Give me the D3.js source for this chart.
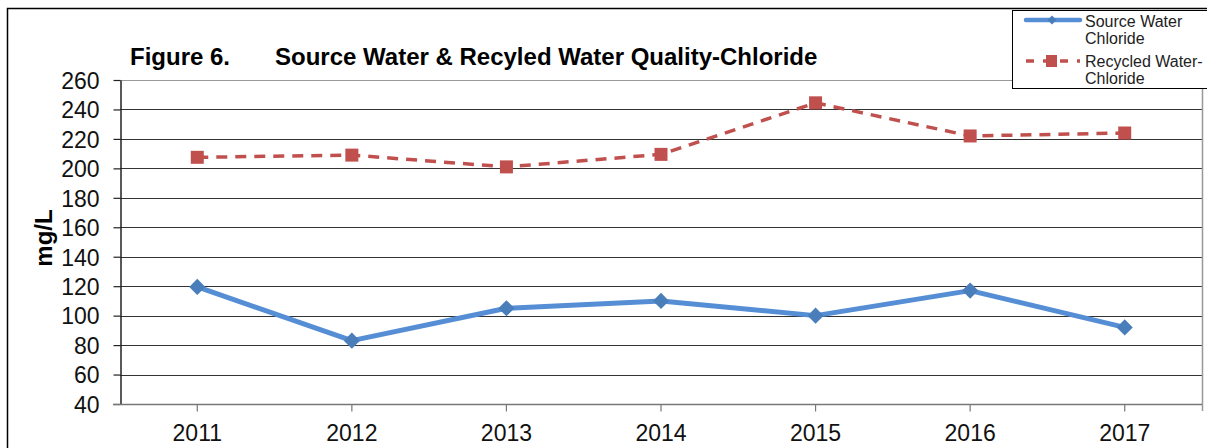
<!DOCTYPE html>
<html>
<head>
<meta charset="utf-8">
<script src="https://cdn.jsdelivr.net/npm/d3@7"></script>
<style>
  body { margin: 0; background: #fff; }
  svg { display: block; font-family: "Liberation Sans", Arial, sans-serif; }
</style>
</head>
<body>
<svg id="chart" width="1207" height="448"></svg>
<script>
"use strict";

var years = ["2011", "2012", "2013", "2014", "2015", "2016", "2017"];
var sourceWater = [119.5, 83, 105, 110, 100, 117, 92];
var recycledWater = [207.5, 209, 201, 209.5, 244.5, 222, 224];
var yTicks = [40, 60, 80, 100, 120, 140, 160, 180, 200, 220, 240, 260];
var seriesNames = [["Source Water", "Chloride"], ["Recycled Water-", "Chloride"]];

var BLUE_LINE = "#558ed5";
var BLUE_MARK = "#4a7ebb";
var RED = "#c0504d";

var svg = d3.select("#chart");
var plot = { left: 120, right: 1202, top: 80, bottom: 404 };

var x = d3.scaleBand().domain(years).range([plot.left, plot.right]);
var y = d3.scaleLinear().domain([40, 260]).range([plot.bottom, plot.top]);
var cx = function (d, i) { return x(years[i]) + x.bandwidth() / 2; };

// outer frame
svg.append("rect")
  .attr("x", 7.5).attr("y", 8.5)
  .attr("width", 1220).attr("height", 460)
  .attr("fill", "none").attr("stroke", "#000").attr("stroke-width", 1.5);

// gridlines
svg.append("g")
  .selectAll("line")
  .data(yTicks.slice(1))
  .enter()
  .append("line")
  .attr("x1", plot.left).attr("x2", plot.right)
  .attr("y1", function (d) { return Math.round(y(d)) + 0.5; })
  .attr("y2", function (d) { return Math.round(y(d)) + 0.5; })
  .attr("stroke", function (d) { return d === 260 ? "#999" : "#333"; })
  .attr("stroke-width", 1.2);

// right border
svg.append("line")
  .attr("x1", plot.right + 0.5).attr("x2", plot.right + 0.5)
  .attr("y1", plot.top).attr("y2", plot.bottom + 7)
  .attr("stroke", "#999").attr("stroke-width", 1.5);

// y axis
var yAxis = svg.append("g").attr("transform", "translate(" + (plot.left + 0.5) + ",0)")
  .call(d3.axisLeft(y).tickValues(yTicks).tickSize(7).tickSizeOuter(0).tickPadding(14));
yAxis.select(".domain").attr("stroke", "#222").attr("stroke-width", 1.5);
yAxis.selectAll(".tick line").attr("stroke", "#222").attr("stroke-width", 1.2);
yAxis.selectAll("text")
  .attr("font-family", "Liberation Sans, Arial, sans-serif")
  .attr("font-size", 23).attr("fill", "#111").attr("dy", "0.36em");

// x axis
svg.append("line")
  .attr("x1", plot.left - 7).attr("x2", plot.right)
  .attr("y1", plot.bottom + 0.5).attr("y2", plot.bottom + 0.5)
  .attr("stroke", "#777").attr("stroke-width", 1.5);
var xAxis = svg.append("g").attr("transform", "translate(0," + (plot.bottom + 0.5) + ")")
  .call(d3.axisBottom(x).tickSize(7).tickSizeOuter(0).tickPadding(13));
xAxis.select(".domain").remove();
xAxis.selectAll(".tick line").attr("stroke", "#777").attr("stroke-width", 1.2);
xAxis.selectAll("text")
  .attr("font-family", "Liberation Sans, Arial, sans-serif")
  .attr("font-size", 23).attr("fill", "#111");

// y label
svg.append("text")
  .attr("transform", "translate(52,238) rotate(-90)")
  .attr("text-anchor", "middle")
  .attr("font-weight", "bold").attr("font-size", 24)
  .text("mg/L");

// title
svg.append("text")
  .attr("x", 130).attr("y", 65)
  .attr("font-weight", "bold").attr("font-size", 24)
  .text("Figure 6.");
svg.append("text")
  .attr("x", 275).attr("y", 65)
  .attr("font-weight", "bold").attr("font-size", 24)
  .text("Source Water & Recyled Water Quality-Chloride");

var lineGen = d3.line().x(cx).y(function (d) { return y(d); });

// recycled water
svg.append("path")
  .datum(recycledWater)
  .attr("d", lineGen)
  .attr("fill", "none").attr("stroke", RED)
  .attr("stroke-width", 3.5).attr("stroke-dasharray", "11,8");
svg.append("g")
  .selectAll("rect")
  .data(recycledWater)
  .enter()
  .append("rect")
  .attr("x", function (d, i) { return cx(d, i) - 6.5; })
  .attr("y", function (d) { return y(d) - 6.5; })
  .attr("width", 13).attr("height", 13)
  .attr("fill", RED);

// source water
svg.append("path")
  .datum(sourceWater)
  .attr("d", lineGen)
  .attr("fill", "none").attr("stroke", BLUE_LINE)
  .attr("stroke-width", 5).attr("stroke-linejoin", "round");
var diamond = d3.symbol().type(d3.symbolSquare).size(130);
svg.append("g")
  .selectAll("path")
  .data(sourceWater)
  .enter()
  .append("path")
  .attr("d", diamond)
  .attr("transform", function (d, i) { return "translate(" + cx(d, i) + "," + y(d) + ") rotate(45)"; })
  .attr("fill", BLUE_MARK);

// legend
var legend = svg.append("g");
legend.append("rect")
  .attr("x", 1012.5).attr("y", 10.5)
  .attr("width", 210).attr("height", 78)
  .attr("fill", "#fff").attr("stroke", "#000").attr("stroke-width", 1);

legend.append("line")
  .attr("x1", 1026).attr("x2", 1080).attr("y1", 20).attr("y2", 20)
  .attr("stroke", BLUE_LINE).attr("stroke-width", 4.5).attr("stroke-linecap", "round");
legend.append("path")
  .attr("d", d3.symbol().type(d3.symbolSquare).size(40))
  .attr("transform", "translate(1052,20) rotate(45)")
  .attr("fill", BLUE_MARK);

legend.append("line")
  .attr("x1", 1026).attr("x2", 1080).attr("y1", 61).attr("y2", 61)
  .attr("stroke", RED).attr("stroke-width", 3.5).attr("stroke-dasharray", "8,9");
legend.append("rect")
  .attr("x", 1046).attr("y", 55).attr("width", 11).attr("height", 12)
  .attr("fill", RED);

seriesNames.forEach(function (lines, s) {
  lines.forEach(function (t, j) {
    legend.append("text")
      .attr("x", 1085).attr("y", 27 + s * 40 + j * 17)
      .attr("font-size", 16).attr("fill", "#222")
      .text(t);
  });
});
</script>
</body>
</html>
